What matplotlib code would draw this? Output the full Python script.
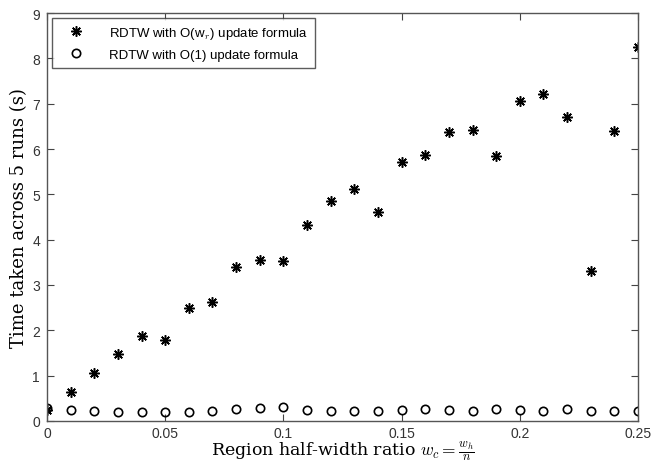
import numpy as np
import matplotlib
matplotlib.use("Agg")
import matplotlib.pyplot as plt

# region half-width ratio
ratio = [0.00, 0.01, 0.02, 0.03, 0.04, 0.05, 0.06, 0.07, 0.08, 0.09, 0.10, 0.11, 0.12,
         0.13, 0.14, 0.15, 0.16, 0.17, 0.18, 0.19, 0.20, 0.21, 0.22, 0.23, 0.24, 0.25]

# time taken, O(w_r) update formula
t_owr = [0.24, 0.65, 1.05, 1.47, 1.88, 1.78, 2.50, 2.62, 3.39, 3.55, 3.52, 4.33, 4.85,
         5.12, 4.60, 5.72, 5.87, 6.38, 6.42, 5.85, 7.05, 7.22, 6.70, 3.30, 6.40, 8.25]

# time taken, O(1) update formula
t_o1 = [0.28, 0.24, 0.22, 0.20, 0.20, 0.19, 0.19, 0.21, 0.27, 0.28, 0.30, 0.25, 0.23,
        0.23, 0.23, 0.25, 0.27, 0.25, 0.23, 0.26, 0.24, 0.23, 0.26, 0.23, 0.23, 0.23]

plt.rcParams['mathtext.fontset'] = 'cm'
plt.rcParams['font.family'] = ['Liberation Sans', 'DejaVu Sans']

fig = plt.figure(figsize=(6.51, 4.64), dpi=100)
ax = fig.add_axes([47/651, 1 - 422/464, 591/651, 408/464])

ax.plot(ratio, t_owr, linestyle='none', marker=(8, 2, 0), markersize=7.5,
        markeredgewidth=1.1, color='black', label='RDTW with O(w$_r$) update formula')
ax.plot(ratio, t_o1, linestyle='none', marker='o', markersize=6,
        markerfacecolor='none', markeredgewidth=1.2, markeredgecolor='black',
        label='RDTW with O(1) update formula')

ax.set_xlim(0, 0.25)
ax.set_ylim(0, 9)
ax.set_xticks([0, 0.05, 0.1, 0.15, 0.2, 0.25])
ax.set_xticklabels(['0', '0.05', '0.1', '0.15', '0.2', '0.25'])
ax.set_yticks(range(0, 10))
ax.tick_params(direction='in', top=True, right=True, length=5, width=0.8,
               labelsize=10, colors='#444444', labelcolor='#333333')
ax.tick_params(axis='y', pad=5)
for s in ax.spines.values():
    s.set_color('#555555')
    s.set_linewidth(1.0)

ax.set_xlabel(r'Region half-width ratio $w_c = \frac{w_h}{n}$', family='serif',
              fontsize=12.5, labelpad=-1)
ax.set_ylabel('Time taken across 5 runs (s)', family='serif', fontsize=13, labelpad=3)

leg = ax.legend(loc='upper left', fontsize=9.5, frameon=True, fancybox=False,
                borderaxespad=0.4, handlelength=2.6, handletextpad=1.2,
                borderpad=0.5, labelspacing=0.6)
leg.get_frame().set_edgecolor('#333333')
leg.get_frame().set_linewidth(1.0)

fig.savefig('out.png', dpi=100)
